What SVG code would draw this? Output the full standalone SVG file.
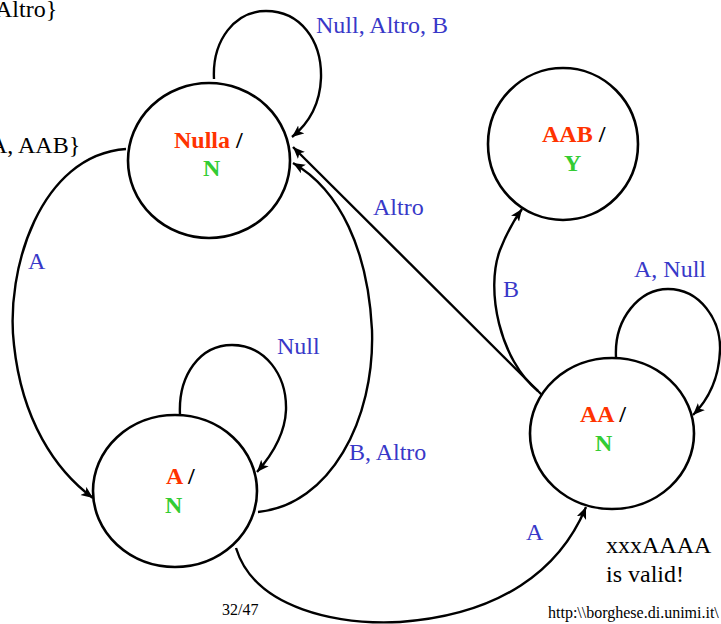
<svg xmlns="http://www.w3.org/2000/svg" width="721" height="624" viewBox="0 0 721 624">
<style>
text{font-family:"Liberation Serif","Times New Roman",serif;font-size:24px}
.lbl{fill:#3838c8}
.nm{fill:#ff3300;font-weight:bold}
.out{fill:#33cc33;font-weight:bold}
.sl{fill:#000;font-weight:bold}
.st{fill:none;stroke:#000;stroke-width:2.6}
.cn{fill:none;stroke:#000;stroke-width:2.4;marker-end:url(#ah)}
.small{font-size:16px;fill:#000}
</style>
<defs>
<marker id="ah" markerUnits="userSpaceOnUse" markerWidth="14" markerHeight="12" refX="12" refY="5" orient="auto">
<path d="M0,0 L12,5 L0,10 L3,5 Z" fill="#000"/>
</marker>
</defs>
<rect width="721" height="624" fill="#fff"/>
<g id="connectors">
<path class="cn" d="M214,79 C212,40 235,11 266,11 C300,11 322,40 321,78 C320,105 308,124 292,137"/>
<path class="cn" d="M126,149 C40,155 5,270 14,345 C22,420 55,470 93,498"/>
<path class="cn" d="M258,512 C330,505 375,420 372,330 C368,250 340,190 293,163"/>
<path class="cn" d="M542,395 L293,147"/>
<path class="cn" d="M538,391 C500,360 485,290 500,250 C507,232 514,220 522,209"/>
<path class="cn" d="M616,357 C614,318 640,289 668,289 C700,289 721,320 720,350 C719,380 708,400 693,415"/>
<path class="cn" d="M180,415 C178,375 200,345 232,345 C265,345 287,375 286,410 C285,435 272,455 257,472"/>
<path class="cn" d="M236,548 C255,610 340,625 400,622 C500,615 560,570 586,507"/>
<text class="lbl" x="316" y="33">Null, Altro, B</text>
<text class="lbl" x="28" y="269">A</text>
<text class="lbl" x="349" y="460">B, Altro</text>
<text class="lbl" x="373" y="215">Altro</text>
<text class="lbl" x="503" y="297">B</text>
<text class="lbl" x="634" y="277">A, Null</text>
<text class="lbl" x="277" y="354">Null</text>
<text class="lbl" x="526" y="540">A</text>
</g>
<g id="node-nulla">
<ellipse class="st" cx="209" cy="160.5" rx="81" ry="77.5"/>
<text x="174" y="148"><tspan class="nm">Nulla</tspan><tspan class="sl"> /</tspan></text>
<text class="out" x="203" y="176">N</text>
</g>
<g id="node-aab">
<ellipse class="st" cx="563" cy="144" rx="75" ry="76"/>
<text x="542" y="142"><tspan class="nm">AAB</tspan><tspan class="sl"> /</tspan></text>
<text class="out" x="564" y="171">Y</text>
</g>
<g id="node-a">
<ellipse class="st" cx="175" cy="491" rx="82" ry="76"/>
<text x="166" y="484"><tspan class="nm">A</tspan><tspan class="sl"> /</tspan></text>
<text class="out" x="165" y="513">N</text>
</g>
<g id="node-aa">
<ellipse class="st" cx="612" cy="433.5" rx="82" ry="75.5"/>
<text x="580" y="422"><tspan class="nm">AA</tspan><tspan class="sl"> /</tspan></text>
<text class="out" x="595" y="451">N</text>
</g>
<g id="texts">
<text x="-5" y="17">Altro}</text>
<text x="-10" y="153">A, AAB}</text>
<text x="606" y="553">xxxAAAA</text>
<text x="606" y="582">is valid!</text>
<text class="small" x="222" y="615">32/47</text>
<text class="small" x="548" y="618">http:\\borghese.di.unimi.it\</text>
</g>
</svg>
